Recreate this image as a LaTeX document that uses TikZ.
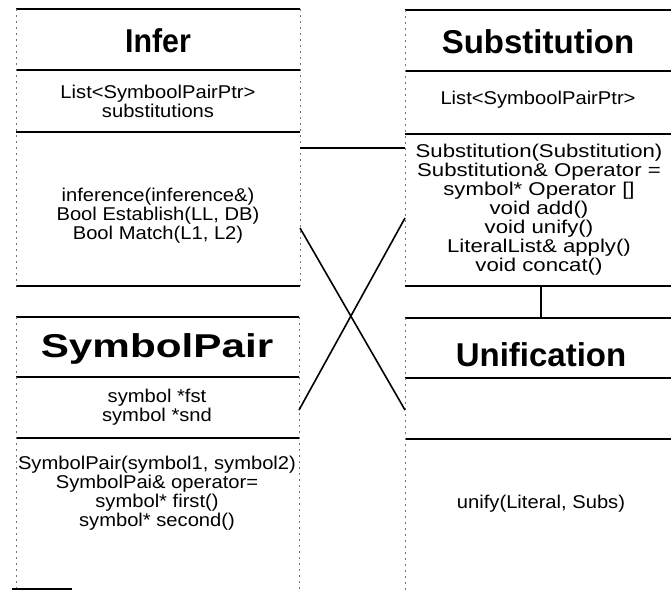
\documentclass[tikz,border=0pt]{standalone}
\usepackage{fontspec}
\setmainfont{Liberation Sans}
\newfontfamily\bodyfont[FakeStretch=1.09]{Liberation Sans}
\newfontfamily\bodywide[FakeStretch=1.2]{Liberation Sans}
\newfontfamily\titlenarrow[FakeStretch=0.92]{Liberation Sans}
\newfontfamily\titlewide[FakeStretch=1.28]{Liberation Sans}
\begin{document}
\begin{tikzpicture}[x=1pt,y=-1pt,
  hline/.style={line width=1.8pt, black},
  vline/.style={line width=0.7pt, black!55, dash pattern=on 2pt off 4pt},
  conn/.style={line width=1.6pt, black},
  titletext/.style={font=\fontsize{33}{33}\selectfont\bfseries, inner sep=0pt, anchor=center},
  bodytext/.style={font=\bodyfont\fontsize{18.5}{19}\selectfont, align=center, inner sep=0pt, anchor=center}]
\useasboundingbox (0,0) rectangle (671,591);

% ---------- Infer ----------
\coordinate (iTL) at (16,9);   \coordinate (iTR) at (300,9);
\coordinate (iD1L) at (16,70); \coordinate (iD1R) at (300,70);
\coordinate (iD2L) at (16,132);\coordinate (iD2R) at (300,132);
\coordinate (iBL) at (16,286); \coordinate (iBR) at (300,286);
\draw[hline] (iTL) -- (iTR);
\draw[hline] (iD1L) -- (iD1R);
\draw[hline] (iD2L) -- (iD2R);
\draw[hline] (iBL) -- (iBR);
\draw[vline] (iTL) -- (iBL);
\draw[vline] (iTR) -- (iBR);
\node[titletext, font=\titlenarrow\fontsize{33}{33}\selectfont\bfseries] (infer) at (158,41) {Infer};
\node[bodytext] (inferattr) at (158,101) {List<SymboolPairPtr>\\substitutions};
\node[bodytext] (infermeth) at (158,216) {inference(inference\&)\\Bool Establish(LL, DB)\\Bool Match(L1, L2)};

% ---------- Substitution ----------
\coordinate (sTL) at (405,10);  \coordinate (sTR) at (671,10);
\coordinate (sD1L) at (405,71); \coordinate (sD1R) at (671,71);
\coordinate (sD2L) at (405,134);\coordinate (sD2R) at (671,134);
\coordinate (sBL) at (405,286); \coordinate (sBR) at (671,286);
\draw[hline] (sTL) -- (sTR);
\draw[hline] (sD1L) -- (sD1R);
\draw[hline] (sD2L) -- (sD2R);
\draw[hline] (sBL) -- (sBR);
\draw[vline] (sTL) -- (sBL);
\node[titletext] (subst) at (538,42) {Substitution};
\node[bodytext] (substattr) at (538,100) {List<SymboolPairPtr>};
\node[bodytext, font=\bodywide\fontsize{18.5}{19}\selectfont] (substmeth) at (539,210) {Substitution(Substitution)\\Substitution\& Operator =\\symbol* Operator []\\void add()\\void unify()\\LiteralList\& apply()\\void concat()};

% ---------- SymbolPair ----------
\coordinate (pTL) at (16,317);  \coordinate (pTR) at (299,317);
\coordinate (pD1L) at (16,377); \coordinate (pD1R) at (299,377);
\coordinate (pD2L) at (16,438); \coordinate (pD2R) at (299,438);
\coordinate (pBL) at (16,591);  \coordinate (pBR) at (299,591);
\draw[hline] (pTL) -- (pTR);
\draw[hline] (pD1L) -- (pD1R);
\draw[hline] (pD2L) -- (pD2R);
\draw[vline] (pTL) -- (pBL);
\draw[vline] (pTR) -- (pBR);
\coordinate (pStubL) at (12,589); \coordinate (pStubR) at (72,589);
\draw[hline] (pStubL) -- (pStubR);
\node[titletext, font=\titlewide\fontsize{33}{33}\selectfont\bfseries] (pair) at (157,349) {SymbolPair};
\node[bodytext] (pairattr) at (157,407) {symbol *fst\\symbol *snd};
\node[bodytext] (pairmeth) at (157,493) {SymbolPair(symbol1, symbol2)\\SymbolPai\& operator=\\symbol* first()\\symbol* second()};

% ---------- Unification ----------
\coordinate (uTL) at (405,318);  \coordinate (uTR) at (671,318);
\coordinate (uD1L) at (405,378); \coordinate (uD1R) at (671,378);
\coordinate (uD2L) at (405,439); \coordinate (uD2R) at (671,439);
\coordinate (uBL) at (405,591);
\draw[hline] (uTL) -- (uTR);
\draw[hline] (uD1L) -- (uD1R);
\draw[hline] (uD2L) -- (uD2R);
\draw[vline] (uTL) -- (uBL);
\node[titletext] (unif) at (541,355) {Unification};
\node[bodytext] (unifmeth) at (541,504) {unify(Literal, Subs)};

% ---------- connectors ----------
\coordinate (assocA) at (300,148); \coordinate (assocB) at (405,148);
\draw[conn] (assocA) -- (assocB);
\coordinate (x1a) at (300,228); \coordinate (x1b) at (405,410);
\draw[conn] (x1a) -- (x1b);
\coordinate (x2a) at (299,410); \coordinate (x2b) at (405,218);
\draw[conn] (x2a) -- (x2b);
\coordinate (vA) at (541,286); \coordinate (vB) at (541,318);
\draw[line width=1.2pt] (vA) -- (vB);
\end{tikzpicture}
\end{document}
